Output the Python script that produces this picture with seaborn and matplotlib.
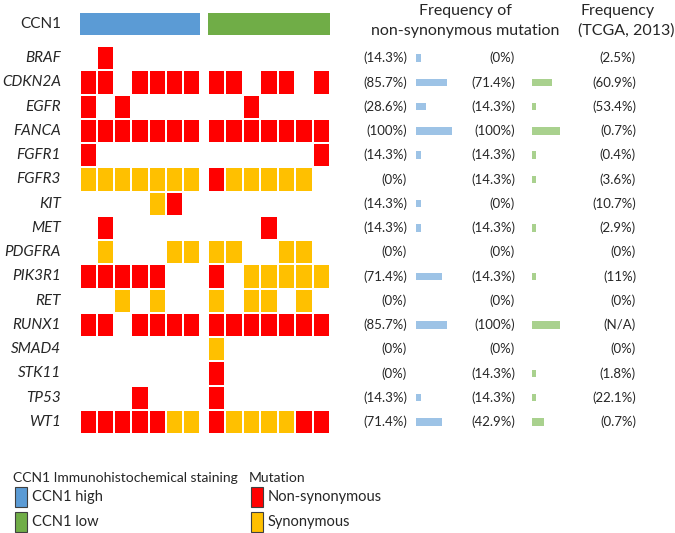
import numpy as np
import matplotlib
matplotlib.use("Agg")
import matplotlib.pyplot as plt
from matplotlib.colors import ListedColormap
from matplotlib.patches import Rectangle
import seaborn as sns

sns.set_theme(style="white")
plt.rcParams['font.family'] = ['Lato', 'DejaVu Sans']

# data
genes = ['BRAF', 'CDKN2A', 'EGFR', 'FANCA', 'FGFR1', 'FGFR3', 'KIT', 'MET',
         'PDGFRA', 'PIK3R1', 'RET', 'RUNX1', 'SMAD4', 'STK11', 'TP53', 'WT1']
# 0 = none, 1 = non-synonymous, 2 = synonymous
ccn1_high = [
    [0, 1, 0, 0, 0, 0, 0],
    [1, 1, 0, 1, 1, 1, 1],
    [1, 0, 1, 0, 0, 0, 0],
    [1, 1, 1, 1, 1, 1, 1],
    [1, 0, 0, 0, 0, 0, 0],
    [2, 2, 2, 2, 2, 2, 2],
    [0, 0, 0, 0, 2, 1, 0],
    [0, 1, 0, 0, 0, 0, 0],
    [0, 2, 0, 0, 0, 2, 2],
    [1, 1, 1, 1, 1, 0, 0],
    [0, 0, 2, 0, 2, 0, 0],
    [1, 1, 0, 1, 1, 1, 1],
    [0, 0, 0, 0, 0, 0, 0],
    [0, 0, 0, 0, 0, 0, 0],
    [0, 0, 0, 1, 0, 0, 0],
    [1, 1, 1, 1, 1, 2, 2],
]
ccn1_low = [
    [0, 0, 0, 0, 0, 0, 0],
    [1, 1, 0, 1, 1, 0, 1],
    [0, 0, 1, 0, 0, 0, 0],
    [1, 1, 1, 1, 1, 1, 1],
    [0, 0, 0, 0, 0, 0, 1],
    [1, 2, 2, 2, 2, 2, 0],
    [0, 0, 0, 0, 0, 0, 0],
    [0, 0, 0, 1, 0, 0, 0],
    [2, 2, 0, 0, 2, 2, 0],
    [1, 0, 2, 2, 2, 2, 2],
    [2, 0, 2, 2, 0, 2, 0],
    [1, 1, 1, 1, 1, 1, 1],
    [2, 0, 0, 0, 0, 0, 0],
    [1, 0, 0, 0, 0, 0, 0],
    [1, 0, 0, 0, 0, 0, 0],
    [1, 2, 2, 2, 2, 1, 1],
]
freq_high = [14.3, 85.7, 28.6, 100, 14.3, 0, 14.3, 14.3, 0, 71.4, 0, 85.7, 0, 0, 14.3, 71.4]
freq_low = [0, 71.4, 14.3, 100, 14.3, 14.3, 0, 14.3, 0, 14.3, 0, 100, 0, 14.3, 14.3, 42.9]
freq_tcga = ['2.5%', '60.9%', '53.4%', '0.7%', '0.4%', '3.6%', '10.7%', '2.9%',
             '0%', '11%', '0%', 'N/A', '0%', '1.8%', '22.1%', '0.7%']

RED, ORANGE = '#FF0000', '#FFC000'
BLUE, GREEN = '#5B9BD5', '#70AD47'
LBLUE, LGREEN = '#9DC3E6', '#A9D18E'

W, H = 675, 533
fig = plt.figure(figsize=(W / 100, H / 100), dpi=100)


def box(l, t, r, b):
    return [l / W, 1 - b / H, (r - l) / W, (b - t) / H]


# overlay for text, pixel coordinates
ax0 = fig.add_axes([0, 0, 1, 1])
ax0.set_xlim(0, W)
ax0.set_ylim(H, 0)
ax0.axis('off')

top, bottom = 46, 434
row_h = (bottom - top) / len(genes)
mut_cmap = ListedColormap(['white', RED, ORANGE])

for data, (l, r), col in [(ccn1_high, (80, 200), BLUE), (ccn1_low, (208, 330), GREEN)]:
    ax = fig.add_axes(box(l, top, r, bottom))
    sns.heatmap(np.array(data), ax=ax, cmap=mut_cmap, vmin=0, vmax=2, cbar=False,
                linewidths=1.1, linecolor='white', xticklabels=False, yticklabels=False)
    axg = fig.add_axes(box(l, 13, r, 35))
    sns.heatmap(np.ones((1, 7)), ax=axg, cmap=ListedColormap([col]), cbar=False,
                xticklabels=False, yticklabels=False)

# frequency bars
for vals, l, w, col in [(freq_high, 416, 36, LBLUE), (freq_low, 532, 28, LGREEN)]:
    axb = fig.add_axes(box(l, top, l + w, bottom))
    sns.barplot(x=vals, y=genes, orient='h', color=col, saturation=1, width=0.3,
                linewidth=0, ax=axb)
    axb.set_xlim(0, 100)
    axb.set_ylim(len(genes) - 0.5, -0.5)
    axb.axis('off')


def pct(v):
    return '(%s%%)' % ('%g' % v)


ax0.text(61, 24, 'CCN1', ha='right', va='center', fontsize=11)
for i, g in enumerate(genes):
    y = top + (i + 0.5) * row_h
    ax0.text(61, y, g, ha='right', va='center', fontsize=11, style='italic')
    ax0.text(407, y, pct(freq_high[i]), ha='right', va='center', fontsize=9.5)
    ax0.text(515, y, pct(freq_low[i]), ha='right', va='center', fontsize=9.5)
    ax0.text(636, y, '(%s)' % freq_tcga[i], ha='right', va='center', fontsize=9.5)

ax0.text(465, 11, 'Frequency of', ha='center', va='center', fontsize=11.5)
ax0.text(465, 31, 'non-synonymous mutation', ha='center', va='center', fontsize=11.5)
ax0.text(580, 11, 'Frequency', ha='left', va='center', fontsize=11.5)
ax0.text(578, 31, '(TCGA, 2013)', ha='left', va='center', fontsize=11.5)

# legend
ax0.text(13, 478, 'CCN1 Immunohistochemical staining', ha='left', va='center', fontsize=10)
ax0.text(249, 478, 'Mutation', ha='left', va='center', fontsize=10)
for x, y, c, lab in [(15, 487, BLUE, 'CCN1 high'), (15, 512, GREEN, 'CCN1 low'),
                     (251, 487, RED, 'Non-synonymous'), (251, 512, ORANGE, 'Synonymous')]:
    ax0.add_patch(Rectangle((x, y), 12, 20, facecolor=c, edgecolor='#404040', lw=0.8))
    ax0.text(x + 17, y + 10, lab, ha='left', va='center', fontsize=10.5)

fig.savefig('out.png', dpi=100)
